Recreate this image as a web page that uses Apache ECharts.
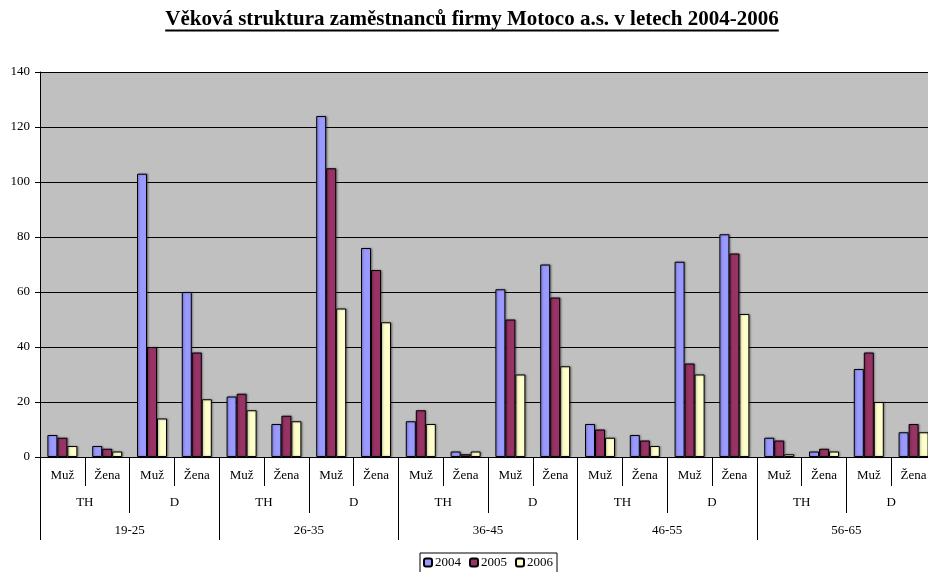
<!DOCTYPE html>
<html>
<head>
<meta charset="utf-8">
<script src="https://cdn.jsdelivr.net/npm/echarts@6/dist/echarts.min.js"></script>
<style>
  html, body { margin: 0; padding: 0; background: #fff; overflow: hidden; }
  #chart { width: 944px; height: 572px; }
</style>
</head>
<body>
<div id="chart"></div>
<script>
// Age structure of Motoco a.s. employees, 2004-2006
const titleText = 'Věková struktura zaměstnanců firmy Motoco a.s. v letech 2004-2006';
const ageGroups = ['19-25', '26-35', '36-45', '46-55', '56-65'];
const staffTypes = ['TH', 'D'];
const genders = ['Muž', 'Žena'];
const years = ['2004', '2005', '2006'];

// Order: for each age group -> TH Muž, TH Žena, D Muž, D Žena
const values2004 = [8, 4, 103, 60,  22, 12, 124, 76,  13, 2, 61, 70,  12, 8, 71, 81,  7, 2, 32, 9];
const values2005 = [7, 3, 40, 38,   23, 15, 105, 68,  17, 1, 50, 58,  10, 6, 34, 74,  6, 3, 38, 12];
const values2006 = [4, 2, 14, 21,   17, 13, 54, 49,   12, 2, 30, 33,  7, 4, 30, 52,   1, 2, 20, 9];

const yTicks = { min: 0, max: 140, interval: 20 };

const genderLabels = [];
const typeLabels = [];
ageGroups.forEach(() => {
  staffTypes.forEach(t => {
    typeLabels.push(t);
    genders.forEach(g => genderLabels.push(g));
  });
});

const serif = '"Liberation Serif", "DejaVu Serif", serif';
const colors = ['#9999FF', '#993366', '#FFFFCC'];
const seriesValues = [values2004, values2005, values2006];

// Underline under the title, sized to the measured text width
const titleFont = 'bold 21px ' + serif;
const measureCtx = document.createElement('canvas').getContext('2d');
measureCtx.font = titleFont;
const titleWidth = measureCtx.measureText(titleText).width;
const titleCenter = 472;

const chart = echarts.init(document.getElementById('chart'), null, { renderer: 'canvas' });

const catAxisBase = {
  type: 'category',
  gridIndex: 0,
  position: 'bottom',
  boundaryGap: true,
  axisLine: { show: false },
  axisTick: { show: true, interval: 0, lineStyle: { color: '#000', width: 1 } },
  axisLabel: { interval: 0, color: '#000', fontFamily: serif, fontSize: 13 },
  splitLine: { show: false }
};

chart.setOption({
  animation: false,
  backgroundColor: '#fff',
  textStyle: { fontFamily: serif },
  graphic: [
    {
      type: 'text',
      left: titleCenter - titleWidth / 2,
      top: 9,
      style: { text: titleText, font: titleFont, fill: '#000' }
    },
    {
      type: 'rect',
      left: titleCenter - titleWidth / 2,
      top: 29.5,
      shape: { width: titleWidth, height: 2 },
      style: { fill: '#000' }
    }
  ],
  legend: {
    data: years,
    left: 420,
    top: 553,
    orient: 'horizontal',
    itemWidth: 8,
    itemHeight: 8,
    itemGap: 8,
    padding: [3, 4, 6, 3],
    borderColor: '#000',
    borderWidth: 1,
    backgroundColor: '#fff',
    textStyle: { fontFamily: serif, fontSize: 13, color: '#000', padding: [0, 0, 0, -2] }
  },
  grid: {
    left: 40,
    top: 72,
    width: 896,
    height: 385,
    show: true,
    backgroundColor: '#C0C0C0',
    borderWidth: 0
  },
  xAxis: [
    Object.assign({}, catAxisBase, {
      data: genderLabels,
      axisLine: { show: true, lineStyle: { color: '#000', width: 1 } },
      axisTick: { show: true, interval: 0, length: 29, lineStyle: { color: '#000', width: 1 } },
      axisLabel: Object.assign({}, catAxisBase.axisLabel, { margin: 12 })
    }),
    Object.assign({}, catAxisBase, {
      data: typeLabels,
      axisTick: { show: true, interval: 0, length: 56, lineStyle: { color: '#000', width: 1 } },
      axisLabel: Object.assign({}, catAxisBase.axisLabel, { margin: 39 })
    }),
    Object.assign({}, catAxisBase, {
      data: ageGroups,
      axisTick: { show: true, interval: 0, length: 83, lineStyle: { color: '#000', width: 1 } },
      axisLabel: Object.assign({}, catAxisBase.axisLabel, { margin: 67 })
    })
  ],
  yAxis: {
    type: 'value',
    min: yTicks.min,
    max: yTicks.max,
    interval: yTicks.interval,
    axisLine: { show: true, lineStyle: { color: '#000', width: 1 } },
    axisTick: { show: true, length: 5, lineStyle: { color: '#000' } },
    axisLabel: { color: '#000', fontFamily: serif, fontSize: 13, margin: 10 },
    splitLine: { show: true, lineStyle: { color: '#000', width: 1 } }
  },
  series: years.map((y, i) => ({
    name: y,
    type: 'bar',
    xAxisIndex: 0,
    data: seriesValues[i],
    barWidth: 10,
    barGap: '0%',
    itemStyle: {
      color: colors[i],
      borderColor: '#000',
      borderWidth: 1,
      shadowColor: 'rgba(0,0,0,0.35)',
      shadowBlur: 2,
      shadowOffsetX: 1,
      shadowOffsetY: 0
    }
  }))
});
</script>
</body>
</html>
